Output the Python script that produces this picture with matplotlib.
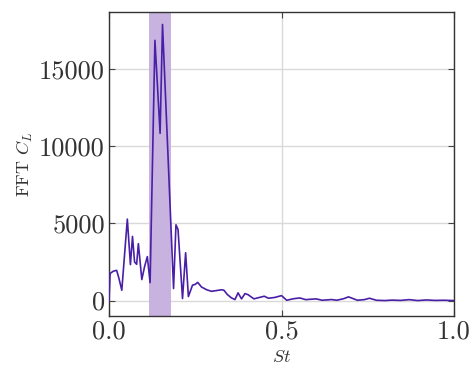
import matplotlib
matplotlib.use("Agg")
import matplotlib.pyplot as plt

plt.rcParams['font.family'] = 'serif'
plt.rcParams['font.serif'] = ['cmr10']
plt.rcParams['mathtext.fontset'] = 'cm'
plt.rcParams['axes.formatter.use_mathtext'] = True

# FFT of lift coefficient vs Strouhal number
st = [0.000, 0.003, 0.012, 0.022, 0.028, 0.037, 0.053, 0.062, 0.068, 0.074,
      0.080, 0.085, 0.095, 0.103, 0.111, 0.119, 0.133, 0.148, 0.155, 0.187,
      0.194, 0.200, 0.213, 0.222, 0.230, 0.242, 0.250, 0.257, 0.268, 0.283,
      0.297, 0.312, 0.326, 0.333, 0.343, 0.355, 0.365, 0.374, 0.384, 0.394,
      0.403, 0.420, 0.432, 0.450, 0.462, 0.480, 0.500, 0.515, 0.535, 0.553,
      0.570, 0.600, 0.618, 0.645, 0.660, 0.680, 0.694, 0.720, 0.740, 0.755,
      0.775, 0.800, 0.820, 0.845, 0.870, 0.895, 0.920, 0.945, 0.970, 1.000]
fft_cl = [0, 1750, 1900, 1960, 1500, 670, 5280, 2330, 4160, 2500,
          2350, 3690, 1360, 2200, 2850, 1160, 16870, 10840, 17900, 780,
          4910, 4600, 130, 3100, 260, 1000, 1050, 1180, 880, 700,
          600, 650, 700, 670, 390, 170, 65, 500, 110, 450,
          380, 110, 180, 280, 150, 200, 320, 20, 120, 170,
          60, 110, 20, 65, 20, 120, 240, 20, 60, 150,
          20, 0, 30, 10, 60, 0, 40, 10, 20, 0]

band = (0.116, 0.179)

fig, ax = plt.subplots(figsize=(4.7, 3.67), dpi=100)
fig.subplots_adjust(left=0.232, right=0.966, bottom=0.139, top=0.967)

ax.axvspan(band[0], band[1], color='#c8b2e0', lw=0, zorder=1)
ax.plot(st, fft_cl, color='#4a1fa8', lw=1.2, zorder=3)

ax.set_xlim(0, 1.0)
ax.set_ylim(-1000, 18700)
ax.set_xticks([0.0, 0.5, 1.0])
ax.set_xticklabels(['0.0', '0.5', '1.0'])
ax.set_yticks([0, 5000, 10000, 15000])
ax.set_yticklabels(['0', '5000', '10000', '15000'])
ax.grid(True, color='#d9d9d9', lw=1.0, zorder=0)
ax.set_axisbelow(True)
ax.tick_params(direction='in', top=True, right=True, length=4,
               labelsize=19, color='#444444', labelcolor='#333333', pad=3)
for s in ax.spines.values():
    s.set_color('#333333')
    s.set_linewidth(1.0)

ax.set_xlabel('$St$', fontsize=13, labelpad=4, color='#333333')
ax.set_ylabel(r'FFT $C_L$', fontsize=13, labelpad=3, color='#333333')

fig.savefig('out.png', dpi=100)
